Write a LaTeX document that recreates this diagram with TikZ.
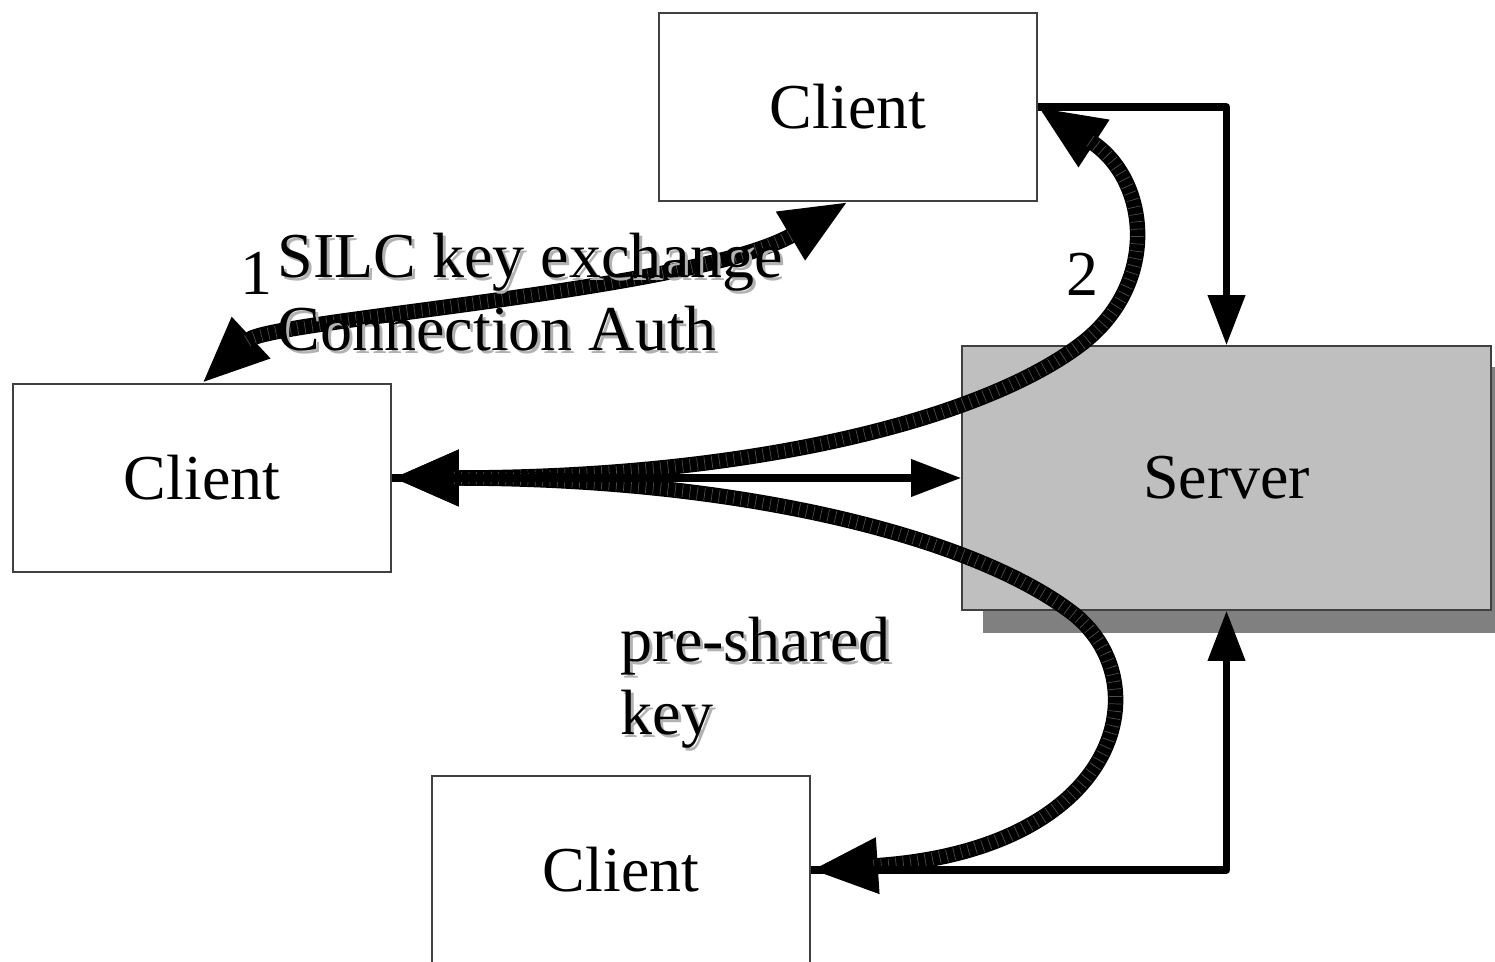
\documentclass[tikz,border=0pt]{standalone}
\usepackage{fontspec}
\setmainfont{Liberation Serif}
\usetikzlibrary{arrows.meta}
\pgfdeclarelayer{background}
\pgfsetlayers{background,main}
\tikzset{
  bighead/.tip={Triangle[length=0.67cm,width=0.52cm]},
  smallhead/.tip={Triangle[length=0.5cm,width=0.36cm]},
}
\begin{document}
\begin{tikzpicture}[x=0.01cm,y=-0.01cm,
  txt/.style={font=\fontsize{18.2}{22}\selectfont},
  box/.style={txt, draw=black!75, line width=0.4pt, fill=white,
    minimum width=3.78cm, minimum height=1.88cm, inner sep=0pt},
  serverbox/.style={box, fill=black!25, minimum width=5.29cm, minimum height=2.64cm},
  lbl/.style={txt, anchor=base west, inner sep=0pt},
  lblshadow/.style={lbl, text=black!30},
  band/.style={line width=4.4pt, black, {bighead}-{bighead},
    postaction={draw=black!70, line width=3.6pt, arrows=-,
      dash pattern=on 0.2pt off 1.9pt,
      shorten <=0.62cm, shorten >=0.62cm}},
  wire/.style={line width=2pt, black, line join=round},
]
\useasboundingbox (0,0) rectangle (1495,962);

% client boxes
\node[box] (ct) at (848,107) {Client};
\node[box] (cl) at (202,478) {Client};
\node[box] (cb) at (621,870) {Client};

% server box with its drop shadow
\node[serverbox] (sv) at (1226.5,478) {Server};
\begin{pgfonlayer}{background}
  \fill[black!50] ([xshift=0.22cm,yshift=-0.22cm]sv.north west)
    rectangle ([xshift=0.22cm,yshift=-0.22cm]sv.south east);
\end{pgfonlayer}

% thick curved exchanges
\draw[band] (cl.north) .. controls (270,320) and (700,290) .. (ct.south);
\draw[band] (cl.east) .. controls (750,478) and (980,420) .. (1080,345)
  .. controls (1160,285) and (1150,180) .. (ct.east);
\draw[band] (cl.east) .. controls (750,478) and (980,540) .. (1075,615)
  .. controls (1160,685) and (1120,850) .. (cb.east);

% plain connections
\draw[wire, -{smallhead}] (cl.east) -- (sv.west);
\draw[wire, -{smallhead}] (ct.east) -| (sv.north);
\draw[wire, {smallhead}-] (sv.south) |- (cb.east);

% labels
\node[lbl] (n1) at (240,295) {1};
\node[lbl] (n2) at (1066,296) {2};
\node[lblshadow] (t1s) at (280,281) {SILC key exchange};
\node[lbl] (t1) at (277,278) {SILC key exchange};
\node[lblshadow] (t2s) at (280,354) {Connection Auth};
\node[lbl] (t2) at (277,351) {Connection Auth};
\node[lblshadow] (t3s) at (623,665) {pre-shared};
\node[lbl] (t3) at (620,662) {pre-shared};
\node[lblshadow] (t4s) at (623,738) {key};
\node[lbl] (t4) at (620,735) {key};
\end{tikzpicture}
\end{document}
